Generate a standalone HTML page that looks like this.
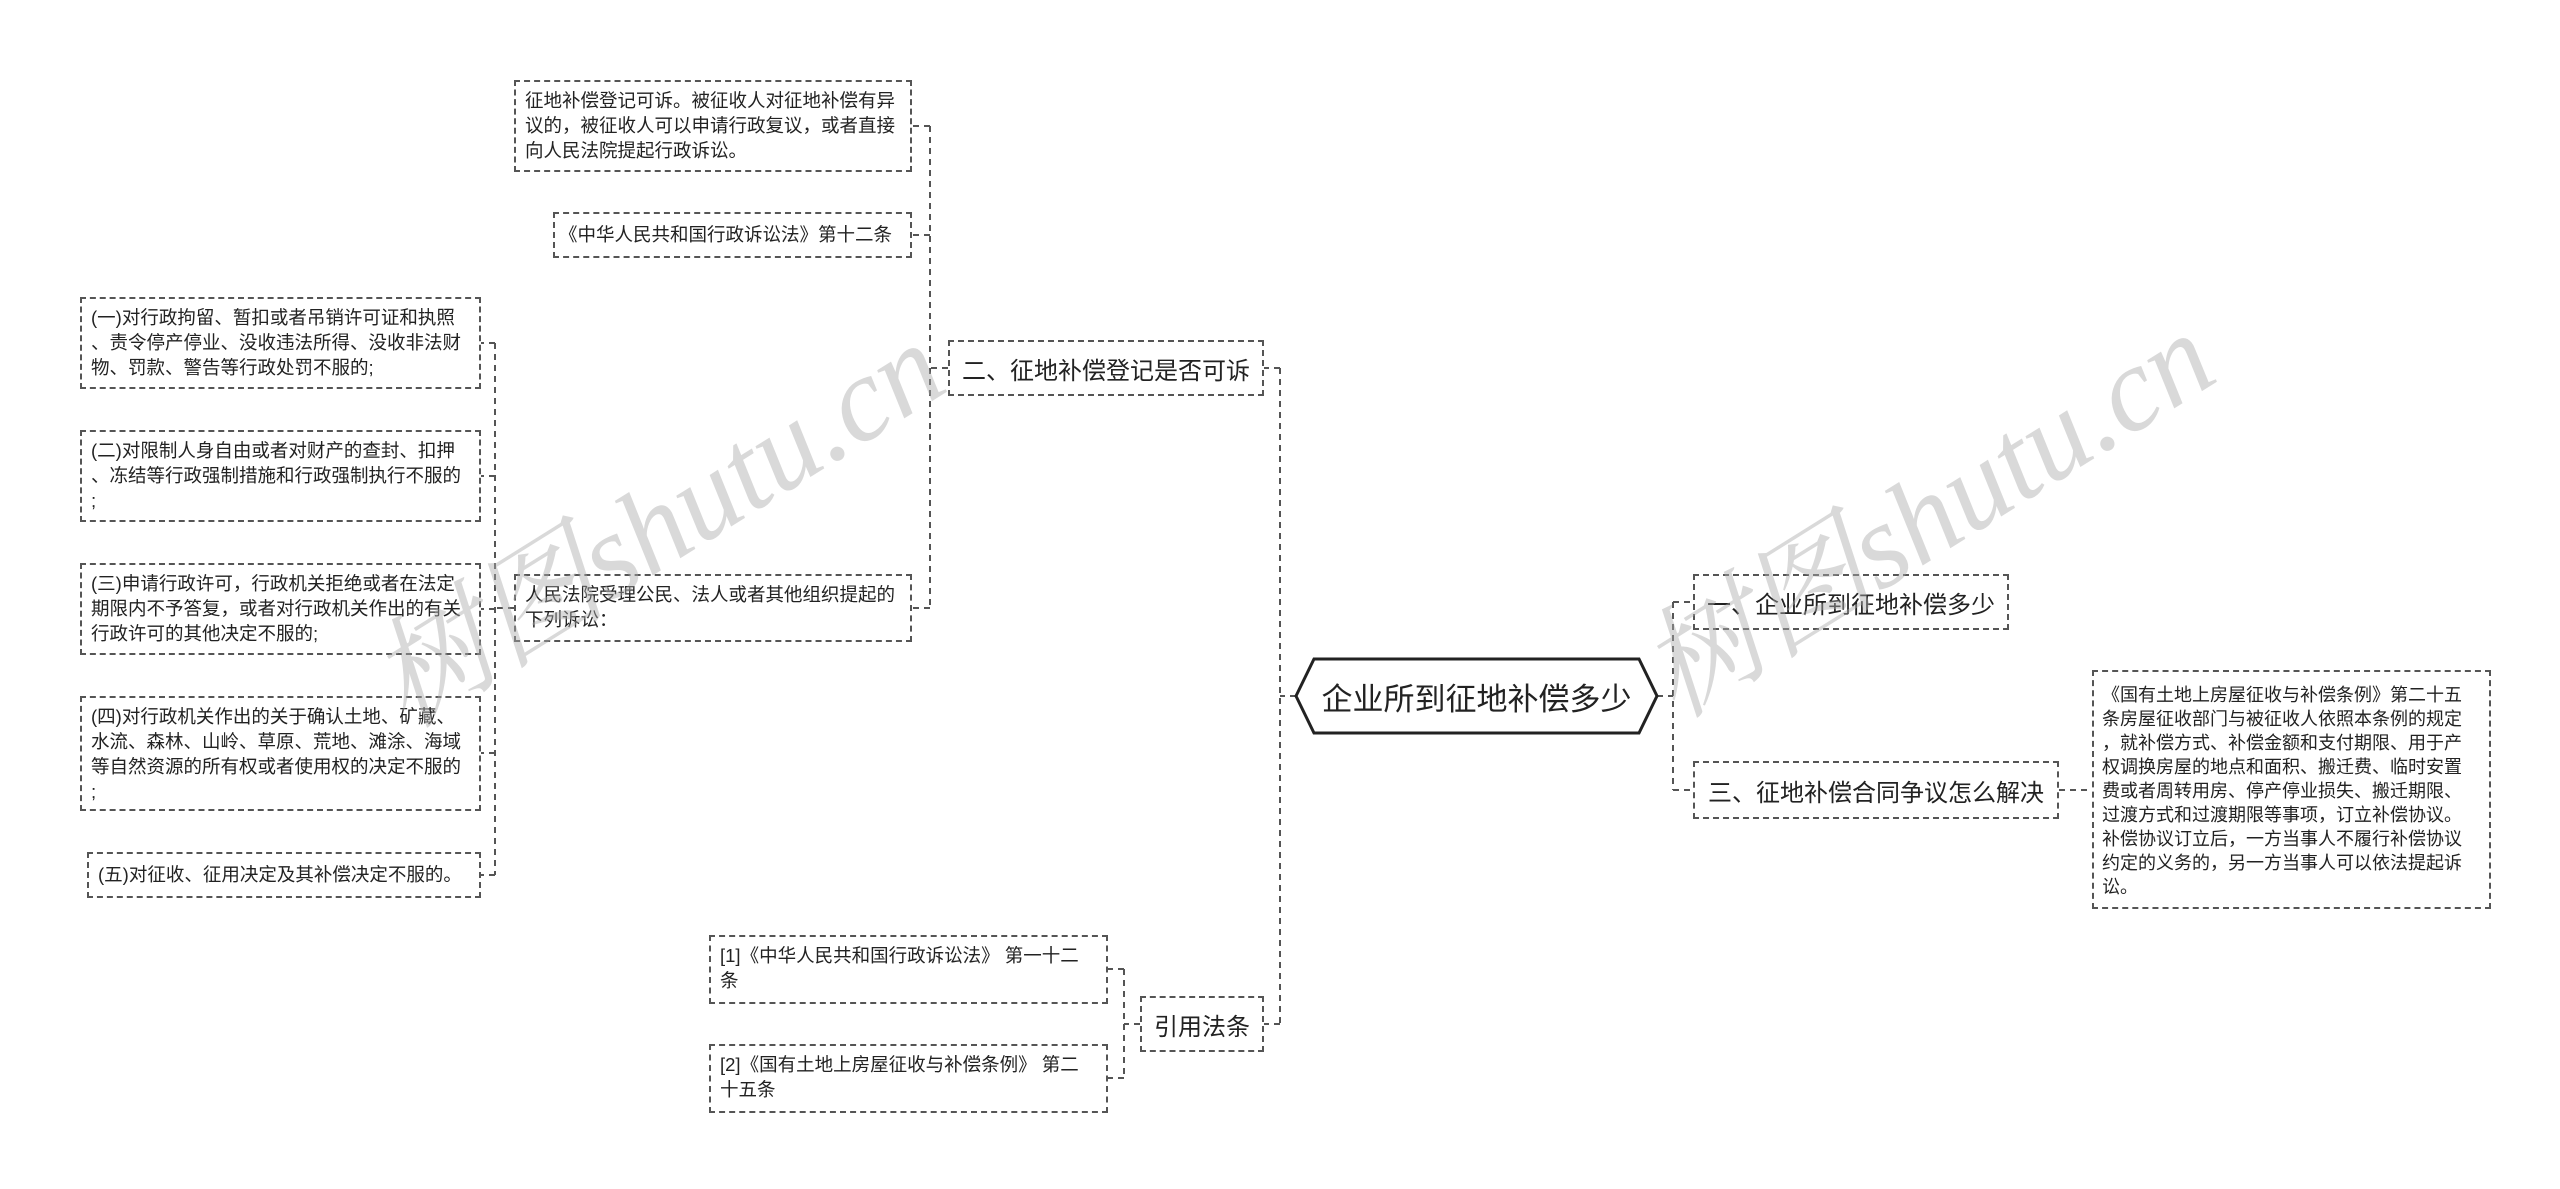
<!DOCTYPE html>
<html><head><meta charset="utf-8"><style>
body{margin:0;width:2560px;height:1189px;background:#fff;position:relative;overflow:hidden;font-family:"Liberation Sans","Noto Sans CJK SC",sans-serif;color:#222}
.b{position:absolute;box-sizing:border-box;border:2px dashed #555;background:#fff;font-size:18.5px;line-height:25px;padding:6px 9px;overflow:hidden;white-space:nowrap}
.m{position:absolute;box-sizing:border-box;border:2px dashed #555;background:#fff;font-size:24px;display:flex;align-items:center;justify-content:center;white-space:nowrap}
.wm{position:absolute;font-family:"Liberation Serif","Noto Serif CJK SC",serif;font-style:italic;font-size:120px;color:rgba(170,170,170,0.45);transform:rotate(-32deg);white-space:nowrap;z-index:5}
</style></head><body>
<svg width="2560" height="1189" style="position:absolute;left:0;top:0" fill="none" stroke="#555" stroke-width="2" stroke-dasharray="6,5">
<path d="M1296 696H1280M1280 368V1024M1280 368H1264M1280 1024H1264"/>
<path d="M1657 696H1673M1673 602V790M1673 602H1693M1673 790H1693"/>
<path d="M948 368H930M930 126V608M930 126H912M930 235H912M930 608H912"/>
<path d="M514 608H495M495 343V875M495 343H481M495 476H481M495 609H481M495 753H481M495 875H481"/>
<path d="M1140 1024H1124M1124 969V1078M1124 969H1108M1124 1078H1108"/>
<path d="M2059 790H2092"/>
</svg>
<svg width="2560" height="1189" style="position:absolute;left:0;top:0">
<polygon points="1296,696 1314,659 1639,659 1657,696 1639,733 1314,733" fill="#fff" stroke="#222" stroke-width="3"/>
</svg>
<div style="position:absolute;left:1296px;top:659px;width:361px;height:74px;display:flex;align-items:center;justify-content:center;font-size:31px">企业所到征地补偿多少</div>

<div class="m" style="left:948px;top:340px;width:316px;height:56px">二、征地补偿登记是否可诉</div>
<div class="m" style="left:1140px;top:996px;width:124px;height:56px">引用法条</div>
<div class="m" style="left:1693px;top:574px;width:316px;height:56px">一、企业所到征地补偿多少</div>
<div class="m" style="left:1693px;top:761px;width:366px;height:58px">三、征地补偿合同争议怎么解决</div>

<div class="b" style="left:2092px;top:670px;width:399px;height:239px;line-height:24px;padding:11px 8px;font-size:18px">《国有土地上房屋征收与补偿条例》第二十五<br>条房屋征收部门与被征收人依照本条例的规定<br>，就补偿方式、补偿金额和支付期限、用于产<br>权调换房屋的地点和面积、搬迁费、临时安置<br>费或者周转用房、停产停业损失、搬迁期限、<br>过渡方式和过渡期限等事项，订立补偿协议。<br>补偿协议订立后，一方当事人不履行补偿协议<br>约定的义务的，另一方当事人可以依法提起诉<br>讼。</div>

<div class="b" style="left:514px;top:80px;width:398px;height:92px">征地补偿登记可诉。被征收人对征地补偿有异<br>议的，被征收人可以申请行政复议，或者直接<br>向人民法院提起行政诉讼。</div>
<div class="b" style="left:553px;top:212px;width:359px;height:46px;padding:8px 4px">《中华人民共和国行政诉讼法》第十二条</div>
<div class="b" style="left:514px;top:574px;width:398px;height:68px">人民法院受理公民、法人或者其他组织提起的<br>下列诉讼：</div>

<div class="b" style="left:80px;top:297px;width:401px;height:92px">(一)对行政拘留、暂扣或者吊销许可证和执照<br>、责令停产停业、没收违法所得、没收非法财<br>物、罚款、警告等行政处罚不服的;</div>
<div class="b" style="left:80px;top:430px;width:401px;height:92px">(二)对限制人身自由或者对财产的查封、扣押<br>、冻结等行政强制措施和行政强制执行不服的<br>;</div>
<div class="b" style="left:80px;top:563px;width:401px;height:92px">(三)申请行政许可，行政机关拒绝或者在法定<br>期限内不予答复，或者对行政机关作出的有关<br>行政许可的其他决定不服的;</div>
<div class="b" style="left:80px;top:696px;width:401px;height:115px">(四)对行政机关作出的关于确认土地、矿藏、<br>水流、森林、山岭、草原、荒地、滩涂、海域<br>等自然资源的所有权或者使用权的决定不服的<br>;</div>
<div class="b" style="left:87px;top:852px;width:394px;height:46px;padding:8px 9px">(五)对征收、征用决定及其补偿决定不服的。</div>

<div class="b" style="left:709px;top:935px;width:399px;height:69px">[1]《中华人民共和国行政诉讼法》 第一十二<br>条</div>
<div class="b" style="left:709px;top:1044px;width:399px;height:69px">[2]《国有土地上房屋征收与补偿条例》 第二<br>十五条</div>

<div class="wm" style="left:330px;top:430px">树图shutu.cn</div>
<div class="wm" style="left:1600px;top:420px">树图shutu.cn</div>
</body></html>
